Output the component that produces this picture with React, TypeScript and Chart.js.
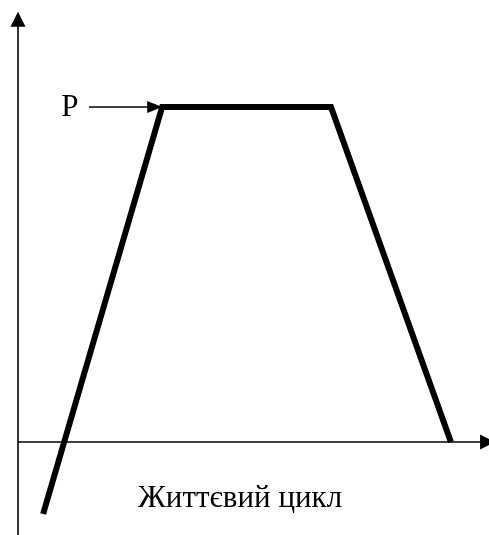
import { useEffect, useRef } from 'react';
import { Chart, registerables } from 'chart.js';

Chart.register(...registerables);

// Product life-cycle curve (x: time units, y: P = 100)
const stageX = [5.8, 33.3, 72.3, 100];
const stageY = [-21.5, 100, 100, 0];

// Visible window of the scales
const xRange = [-4.16, 108.8];
const yRange = [-27.76, 131.94];

// Axis arrow ends
const yAxisTop = 128.4;
const xAxisEnd = 110.2;

// Level marker
const levelLabel = 'P';
const levelValue = 100;
const levelLabelX = 12;
const levelArrowStartX = 16.4;
const levelArrowEndX = 33.3;

// Axis title
const xTitle = 'Життєвий цикл';
const xTitleX = 51.3;
const xTitleY = -19.4;

const FONT = '"Liberation Serif", "Times New Roman", serif';

function arrowHead(ctx: CanvasRenderingContext2D, tx: number, ty: number, dx: number, dy: number, len: number, half: number) {
  const nx = -dy;
  const ny = dx;
  const bx = tx - dx * len;
  const by = ty - dy * len;
  ctx.beginPath();
  ctx.moveTo(tx, ty);
  ctx.lineTo(bx + nx * half, by + ny * half);
  ctx.lineTo(bx - nx * half, by - ny * half);
  ctx.closePath();
  ctx.fill();
}

const decorPlugin = {
  id: 'decor',
  beforeDatasetsDraw(chart: any) {
    const { ctx, scales } = chart;
    const xs = scales.x;
    const ys = scales.y;
    const x0 = xs.getPixelForValue(0);
    const y0 = ys.getPixelForValue(0);
    ctx.save();
    ctx.strokeStyle = '#000';
    ctx.fillStyle = '#000';
    ctx.lineWidth = 1.6;
    // vertical axis
    const yTop = ys.getPixelForValue(yAxisTop);
    ctx.beginPath();
    ctx.moveTo(x0, ys.getPixelForValue(yRange[0]));
    ctx.lineTo(x0, yTop + 10);
    ctx.stroke();
    arrowHead(ctx, x0, yTop, 0, -1, 15, 7.5);
    // horizontal axis
    const xEnd = xs.getPixelForValue(xAxisEnd);
    ctx.beginPath();
    ctx.moveTo(x0, y0);
    ctx.lineTo(xEnd - 10, y0);
    ctx.stroke();
    arrowHead(ctx, xEnd, y0, 1, 0, 15, 7.5);
    ctx.restore();
  },
  afterDatasetsDraw(chart: any) {
    const { ctx, scales } = chart;
    const xs = scales.x;
    const ys = scales.y;
    ctx.save();
    ctx.strokeStyle = '#000';
    ctx.fillStyle = '#000';
    ctx.lineWidth = 1.6;
    const py = ys.getPixelForValue(levelValue);
    const ax1 = xs.getPixelForValue(levelArrowStartX);
    const ax2 = xs.getPixelForValue(levelArrowEndX);
    ctx.beginPath();
    ctx.moveTo(ax1, py);
    ctx.lineTo(ax2 - 10, py);
    ctx.stroke();
    arrowHead(ctx, ax2, py, 1, 0, 15, 6);

    ctx.font = `31px ${FONT}`;
    ctx.textAlign = 'center';
    ctx.textBaseline = 'middle';
    ctx.fillText(levelLabel, xs.getPixelForValue(levelLabelX), py + 1);

    ctx.textBaseline = 'alphabetic';
    ctx.fillText(xTitle, xs.getPixelForValue(xTitleX), ys.getPixelForValue(xTitleY));
    ctx.restore();
  },
};

export default function App() {
  const ref = useRef<HTMLCanvasElement | null>(null);
  useEffect(() => {
    if (!ref.current) return;
    const chart = new Chart(ref.current, {
      type: 'scatter',
      data: {
        datasets: [
          {
            data: stageX.map((x, i) => ({ x, y: stageY[i] })),
            showLine: true,
            borderColor: '#000',
            borderWidth: 6,
            borderJoinStyle: 'miter',
            borderCapStyle: 'butt',
            pointRadius: 0,
            tension: 0,
          },
        ],
      },
      options: {
        responsive: false,
        animation: false,
        layout: { padding: 0 },
        plugins: { legend: { display: false }, tooltip: { enabled: false } },
        scales: {
          x: { type: 'linear', min: xRange[0], max: xRange[1], display: false },
          y: { type: 'linear', min: yRange[0], max: yRange[1], display: false },
        },
      },
      plugins: [decorPlugin],
    });
    return () => chart.destroy();
  }, []);
  return (
    <div style={{ position: 'fixed', left: 0, top: 0, width: 489, height: 535, background: '#fff' }}>
      <canvas ref={ref} width={489} height={535} style={{ display: 'block' }} />
    </div>
  );
}
